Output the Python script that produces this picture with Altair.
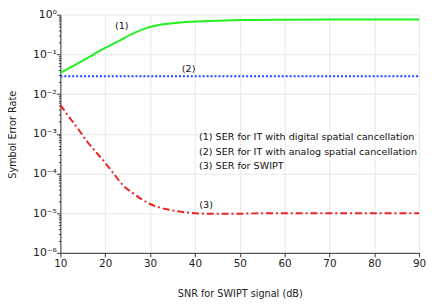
import altair as alt
import pandas as pd

# (1) SER for IT with digital spatial cancellation
x1 = [10, 13, 16, 18.6, 21, 23, 26, 29.7, 33.3, 37.7, 43, 50, 60, 70, 80, 90]
y1 = [0.034, 0.052, 0.08, 0.12, 0.166, 0.215, 0.33, 0.48, 0.58, 0.65, 0.69, 0.73, 0.75, 0.76,
      0.76, 0.76]
# (2) SER for IT with analog spatial cancellation
x2 = [10, 90]
y2 = [0.028, 0.028]
# (3) SER for SWIPT
x3 = [10, 12, 14, 16, 18, 20, 22, 24, 26, 28, 30, 32, 34, 37, 40, 44, 48, 52, 56, 60, 70, 80, 90]
y3 = [5.3e-3, 2.6e-3, 1.3e-3, 6.3e-4, 3.4e-4, 1.85e-4, 9.5e-5, 5.0e-5, 3.3e-5, 2.3e-5, 1.7e-5,
      1.4e-5, 1.23e-5, 1.08e-5, 1.0e-5, 9.6e-6, 9.6e-6, 9.8e-6, 1.0e-5, 1.0e-5, 1.0e-5, 1.0e-5, 1.0e-5]

ann_text = ["(1)", "(2)", "(3)"]
ann_x = [23.7, 38.6, 42.5]
ann_y = [0.53, 0.043, 1.6e-5]

legend_text = ["(1) SER for IT with digital spatial cancellation",
               "(2) SER for IT with analog spatial cancellation",
               "(3) SER for SWIPT"]
legend_x = [40.9, 40.9, 40.9]
legend_y = [8.1e-4, 3.45e-4, 1.5e-4]

x_ticks = [10, 20, 30, 40, 50, 60, 70, 80, 90]
y_ticks = [m * 10.0 ** e for e in range(-6, 0) for m in range(1, 10)] + [1.0]

FONT = "DejaVu Sans"
is_major = "abs(log(datum.value)/LN10 - round(log(datum.value)/LN10)) < 0.001"
sup = "['\u2070','\u207b\u00b9','\u207b\u00b2','\u207b\u00b3','\u207b\u2074','\u207b\u2075','\u207b\u2076'][round(-log(datum.value)/LN10)]"

xs = alt.Scale(domain=[10, 90], nice=False)
ys = alt.Scale(type="log", domain=[1e-6, 1], nice=False)

xaxis = alt.Axis(values=x_ticks, title="SNR for SWIPT signal (dB)", grid=True, labelFlush=False,
                 gridColor="#e8e8e8", domainColor="#333", tickColor="#333", tickSize=4,
                 labelFont=FONT, labelFontSize=10.5, labelColor="#222", labelPadding=2,
                 titleFont=FONT, titleFontSize=9.8, titleFontWeight="normal", titleColor="#222",
                 titleY=41, titleBaseline="middle")
yaxis = alt.Axis(values=y_ticks, title="Symbol Error Rate", grid=True,
                 gridOpacity={"condition": {"test": is_major, "value": 1}, "value": 0},
                 gridColor="#e8e8e8", domainColor="#333", tickColor="#333",
                 tickSize={"condition": {"test": is_major, "value": 4}, "value": 2},
                 labelExpr="(" + is_major + ") ? '10' + " + sup + " : ''",
                 labelOverlap=False, labelFont=FONT, labelFontSize=11, labelColor="#222",
                 labelPadding=0,
                 titleFont=FONT, titleFontSize=9.8, titleFontWeight="normal", titleColor="#222",
                 titleX=-48, titleY=121, titleBaseline="middle", titleAlign="center")

d1 = pd.DataFrame({"x": x1, "y": y1})
d2 = pd.DataFrame({"x": x2, "y": y2})
d3 = pd.DataFrame({"x": x3, "y": y3})

l1 = alt.Chart(d1).mark_line(color="#22ee22", strokeWidth=2, interpolate="monotone").encode(
    x=alt.X("x:Q", scale=xs, axis=xaxis), y=alt.Y("y:Q", scale=ys, axis=yaxis))
l2 = alt.Chart(d2).mark_line(color="#2040ff", strokeWidth=2, strokeDash=[2, 2]).encode(
    x=alt.X("x:Q", scale=xs), y=alt.Y("y:Q", scale=ys))
l3 = alt.Chart(d3).mark_line(color="#ee2222", strokeWidth=2, strokeDash=[7, 3, 2, 3],
                             interpolate="monotone").encode(
    x=alt.X("x:Q", scale=xs), y=alt.Y("y:Q", scale=ys))

ann = alt.Chart(pd.DataFrame({"t": ann_text, "x": ann_x, "y": ann_y})).mark_text(
    font=FONT, fontSize=9.7, color="#111").encode(
    x=alt.X("x:Q", scale=xs), y=alt.Y("y:Q", scale=ys), text="t:N")
leg = alt.Chart(pd.DataFrame({"t": legend_text, "x": legend_x, "y": legend_y})).mark_text(
    font=FONT, fontSize=9.7, color="#111", align="left").encode(
    x=alt.X("x:Q", scale=xs), y=alt.Y("y:Q", scale=ys), text="t:N")

chart = alt.layer(l1, l2, l3, ann, leg).properties(
    width=363, height=241,
    autosize=alt.AutoSizeParams(type="none"),
    padding={"left": 53, "top": 5, "right": 9, "bottom": 50},
).configure_view(stroke=None)

chart.save("out.html", embed_options={"renderer": "svg", "actions": False})
